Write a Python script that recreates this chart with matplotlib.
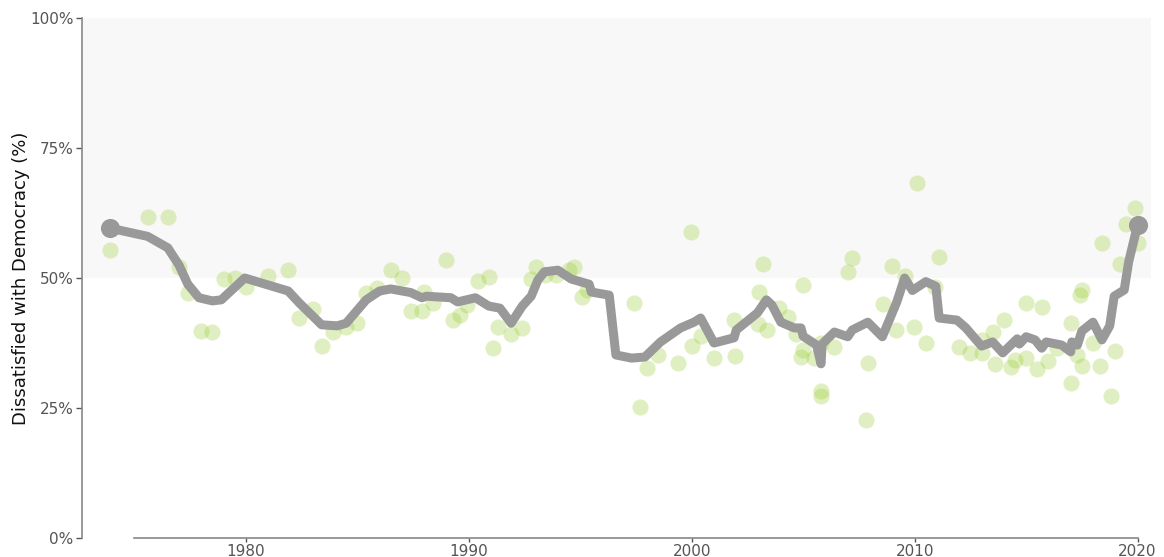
import matplotlib
matplotlib.use("Agg")
import matplotlib.pyplot as plt
import numpy as np

# Smoothed trend line (year, % dissatisfied)
trend_year = [1973.9, 1975.6, 1976.5, 1977.0, 1977.4, 1977.9, 1978.5, 1978.9, 1979.95,
              1981.9, 1982.4, 1983.4, 1984.1, 1984.5, 1985.4, 1986.0, 1986.5, 1987.4,
              1987.9, 1988.1, 1989.2, 1989.5, 1990.3, 1990.9, 1991.4, 1991.9, 1992.4,
              1992.8, 1993.1, 1993.4, 1994.0, 1994.6, 1995.4, 1995.5, 1996.3, 1996.6,
              1997.3, 1997.9, 1998.6, 1999.5, 2000.1, 2000.4, 2001.0, 2001.9, 2002.0,
              2002.95, 2003.35, 2003.6, 2004.0, 2004.6, 2004.9, 2005.0, 2005.6, 2005.8,
              2005.85, 2006.4, 2007.0, 2007.2, 2007.9, 2008.55, 2009.2, 2009.55, 2009.9,
              2010.5, 2010.95, 2011.1, 2011.9, 2012.3, 2012.8, 2013.0, 2013.5, 2013.95,
              2014.6, 2014.7, 2015.0, 2015.4, 2015.7, 2015.9, 2016.6, 2017.0, 2017.05,
              2017.3, 2017.5, 2018.0, 2018.4, 2018.75, 2018.95, 2019.4, 2019.6, 2020.0]
trend_val = [59.6, 58.0, 55.8, 52.5, 48.8, 46.2, 45.6, 45.8, 50.0,
             47.5, 45.2, 41.0, 40.8, 41.3, 45.8, 47.5, 47.9, 47.2,
             46.2, 46.5, 46.2, 45.4, 46.2, 44.6, 44.2, 41.3, 44.6,
             46.5, 49.6, 51.2, 51.5, 49.8, 48.8, 47.3, 46.7, 35.2,
             34.6, 34.8, 37.7, 40.4, 41.5, 42.3, 37.5, 38.5, 40.0,
             43.3, 45.8, 44.8, 41.5, 40.4, 40.4, 38.8, 37.1, 33.5,
             37.3, 39.6, 38.7, 40.0, 41.5, 38.7, 45.4, 50.0, 47.6,
             49.3, 48.4, 42.3, 41.9, 40.4, 37.9, 36.9, 37.7, 35.6,
             38.3, 37.3, 38.7, 38.1, 36.5, 37.7, 37.1, 35.8, 37.7,
             37.1, 39.8, 41.5, 38.1, 40.8, 46.5, 47.7, 53.1, 60.2]

# Individual survey observations
obs_year = [1973.9, 1975.6, 1976.5, 1977.0, 1977.4, 1978.0, 1978.5, 1979.0, 1979.5, 1980.0,
            1981.0, 1981.9, 1982.4, 1983.0, 1983.4, 1983.9, 1984.5, 1985.0, 1985.4, 1985.9,
            1986.5, 1987.0, 1987.4, 1987.9, 1988.0, 1988.4, 1989.0, 1989.3, 1989.6, 1989.9,
            1990.4, 1990.9, 1991.1, 1991.3, 1991.9, 1992.4, 1992.8, 1993.0, 1993.4, 1993.9,
            1994.5, 1994.7, 1995.1, 1995.3, 1997.4, 1997.7, 1998.0, 1998.5, 1999.4, 1999.95,
            2000.0, 2000.4, 2001.0, 2001.9, 2001.95, 2002.96, 2003.0, 2003.2, 2003.4, 2003.9,
            2004.3, 2004.7, 2004.9, 2005.0, 2005.0, 2005.5, 2005.8, 2005.8, 2005.8, 2006.4,
            2007.0, 2007.2, 2007.8, 2007.9, 2008.6, 2009.0, 2009.15, 2009.55, 2009.95, 2010.1,
            2010.5, 2010.9, 2011.1, 2012.0, 2012.5, 2013.0, 2013.0, 2013.5, 2013.6, 2014.0,
            2014.3, 2014.5, 2015.0, 2015.0, 2015.5, 2015.7, 2016.0, 2016.4, 2017.0, 2017.0,
            2017.3, 2017.4, 2017.5, 2017.5, 2018.0, 2018.3, 2018.4, 2018.8, 2019.0, 2019.2,
            2019.5, 2019.9, 2020.0]
obs_val = [55.4, 61.7, 61.7, 52.1, 47.1, 39.8, 39.6, 49.8, 50.0, 48.3,
           50.4, 51.5, 42.3, 44.0, 36.9, 39.6, 40.6, 41.3, 47.1, 48.1,
           51.5, 50.0, 43.7, 43.7, 47.3, 45.2, 53.5, 41.9, 42.9, 44.8,
           49.4, 50.2, 36.5, 40.6, 39.2, 40.4, 49.8, 52.1, 50.6, 50.6,
           51.5, 52.1, 46.3, 47.7, 45.2, 25.2, 32.7, 35.2, 33.6, 58.8,
           36.9, 38.8, 34.6, 41.9, 35.0, 41.2, 47.3, 52.7, 40.0, 44.2,
           42.5, 39.2, 34.8, 48.7, 36.2, 34.6, 28.3, 27.3, 37.5, 36.7,
           51.2, 53.8, 22.7, 33.6, 45.0, 52.3, 40.0, 50.4, 40.6, 68.3,
           37.5, 48.3, 54.0, 36.7, 35.6, 35.6, 38.1, 39.6, 33.5, 41.9,
           32.9, 34.2, 45.2, 34.6, 32.5, 44.4, 34.0, 36.5, 41.3, 29.8,
           35.2, 46.7, 47.7, 33.1, 37.5, 33.1, 56.7, 27.3, 36.0, 52.7,
           60.4, 63.5, 56.7]

y_ticks = [0, 25, 50, 75, 100]
y_tick_labels = ["0%", "25%", "50%", "75%", "100%"]
x_ticks = [1980, 1990, 2000, 2010, 2020]

fig = plt.figure(figsize=(11.64, 5.57), dpi=100)
ax = fig.add_axes([0.0704, 0.0341, 0.9184, 0.9336])

ax.set_xlim(1972.65, 2020.6)
ax.set_ylim(0, 100)

ax.axhspan(50, 100, color="#f8f8f8", zorder=0, lw=0)

ax.scatter(obs_year, obs_val, s=135, color="#9acd32", alpha=0.3, lw=0, zorder=2)
ax.plot(trend_year, trend_val, color="#999999", lw=6.5, solid_joinstyle="round",
        solid_capstyle="butt", zorder=3)
ax.scatter([trend_year[0], trend_year[-1]], [trend_val[0], trend_val[-1]],
           s=190, color="#999999", lw=0, zorder=4)

for s in ["top", "right"]:
    ax.spines[s].set_visible(False)
ax.spines["left"].set_color("#888888")
ax.spines["bottom"].set_color("#888888")
ax.spines["left"].set_linewidth(1.2)
ax.spines["bottom"].set_linewidth(1.2)
ax.spines["bottom"].set_bounds(1975, 2020)

ax.set_yticks(y_ticks)
ax.set_yticklabels(y_tick_labels)
ax.set_xticks(x_ticks)
ax.set_xticklabels([str(x) for x in x_ticks])
ax.tick_params(axis="both", colors="#555555", labelsize=11, length=4, width=1,
               direction="out")
ax.tick_params(axis="y", pad=2)
ax.tick_params(axis="x", pad=1, length=3)
for t in ax.get_xticklines() + ax.get_yticklines():
    t.set_color("#888888")

ax.set_ylabel("Dissatisfied with Democracy (%)", fontsize=13, color="#111111", labelpad=0)

fig.savefig("out.png", dpi=100)
